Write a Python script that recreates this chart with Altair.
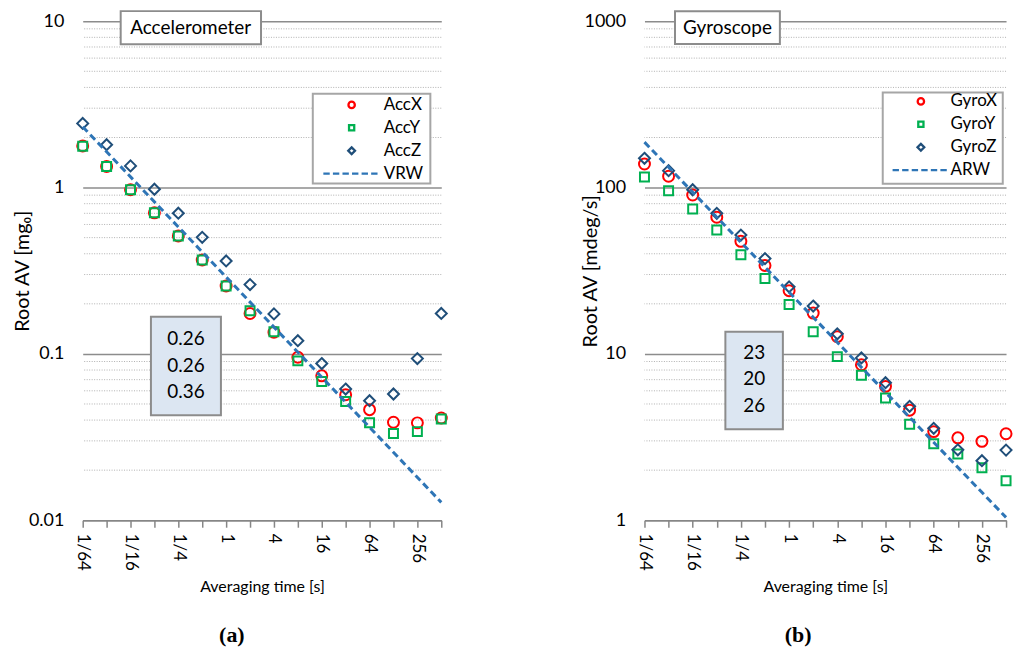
import altair as alt
import pandas as pd

# ---------------- data ----------------
tau = [1/64, 1/32, 1/16, 1/8, 1/4, 1/2, 1, 2, 4, 8, 16, 32, 64, 128, 256, 512]

acc_series = ["AccX", "AccY", "AccZ", "VRW"]
acc_x = [1.78, 1.34, 0.97, 0.705, 0.512, 0.367, 0.256, 0.175, 0.135, 0.0955, 0.0738, 0.0568, 0.0462, 0.0388, 0.0385, 0.0412]
acc_y = [1.77, 1.34, 0.97, 0.705, 0.512, 0.367, 0.256, 0.182, 0.136, 0.0908, 0.0682, 0.0518, 0.0385, 0.0332, 0.0341, 0.0406]
acc_z = [2.43, 1.81, 1.35, 0.977, 0.701, 0.502, 0.362, 0.261, 0.174, 0.120, 0.0875, 0.0615, 0.0523, 0.0574, 0.0937, 0.175]
vrw_tau = [1/64, 512]
vrw = [2.32, 0.0128]
acc_box_values = ["0.26", "0.26", "0.36"]

gyro_series = ["GyroX", "GyroY", "GyroZ", "ARW"]
gyro_x = [138.6, 117, 90.2, 66.3, 47.5, 34.0, 24.0, 17.6, 12.7, 8.6, 6.38, 4.59, 3.41, 3.13, 2.98, 3.31]
gyro_y = [115.9, 95.6, 74.4, 55.5, 39.5, 28.4, 19.8, 13.6, 9.63, 7.45, 5.43, 3.78, 2.88, 2.50, 2.07, 1.73]
gyro_z = [150, 126.4, 97, 70, 51.8, 37.4, 25.3, 19.4, 13.2, 9.46, 6.71, 4.84, 3.57, 2.65, 2.28, 2.64]
arw_tau = [1/64, 512]
arw = [187.5, 1.04]
gyro_box_values = ["23", "20", "26"]

acc_major = [0.01, 0.1, 1, 10]
gyro_major = [1, 10, 100, 1000]

# ---------------- styling ----------------
FONT = "Lato"
COLORS = ["#ff0000", "#00b050", "#1f4e79", "#2e75b6"]

# marker shapes for the plotted points (unit paths, scaled by sqrt(size)/2)
P_CIRCLE = "M1,0A1,1,0,1,1,-1,0A1,1,0,1,1,1,0Z"
P_SQUARE = "M-0.82,-0.82H0.82V0.82H-0.82Z"
P_DIAMOND = "M0,-1.0L1.0,0L0,1.0L-1.0,0Z"
POINT_SHAPES = [P_CIRCLE, P_SQUARE, P_DIAMOND]

# legend symbols (legend symbolSize 64 -> 4 px per unit)
L_CIRCLE = "M0.8,0A0.8,0.8,0,1,1,-0.8,0A0.8,0.8,0,1,1,0.8,0Z"
L_SQUARE = "M-0.65,-0.65H0.65V0.65H-0.65Z"
L_DIAMOND = "M0,-0.85L0.85,0L0,0.85L-0.85,0Z"
dash_parts = []
s = -7.1
while s < 7.1:
    e = min(s + 1.6, 7.1)
    dash_parts.append(f"M{s:.2f},0H{e:.2f}")
    s += 2.4
L_DASH = "".join(dash_parts)
LEGEND_SHAPES = [L_CIRCLE, L_SQUARE, L_DIAMOND, L_DASH]

ODD_EXP = "round(log(datum.value)/log(2)) % 2 != 0"
LABEL_EXPR = (f"({ODD_EXP}) ? '' : "
              "(datum.value < 1 ? '1/' + round(1/datum.value) : '' + round(datum.value))")


def minor_values(major):
    out = []
    for m in major[:-1]:
        for k in range(2, 10):
            out.append(m * k)
    return out


def panel(series, xs, ys, zs, line_tau, line_vals, major, ytitle, ytitle_x,
          title_text, title_box, box_vals, value_box, value_x, value_y,
          legend_box, legend_xy, label_offset, tag, width):
    xscale = alt.Scale(type="log", base=2, domain=[tau[0], tau[-1]], nice=False)
    yscale = alt.Scale(type="log", domain=[major[0], major[-1]], nice=False)

    pts = pd.DataFrame({
        "t": tau * 3,
        "v": xs + ys + zs,
        "series": [series[0]] * len(tau) + [series[1]] * len(tau) + [series[2]] * len(tau),
    })
    line_df = pd.DataFrame({"t": line_tau, "v": line_vals})
    minor_df = pd.DataFrame({"v": minor_values(major)})
    legend_df = pd.DataFrame({"series": series})

    xaxis = alt.Axis(values=tau, labelExpr=LABEL_EXPR, labelAngle=90, grid=False,
                     labelFlush=False, labelOverlap=False,
                     labelFontSize={"condition": {"test": ODD_EXP, "value": 0}, "value": 17},
                     domainColor="#868686", domainWidth=1.5, tickColor="#868686",
                     tickWidth=1.5, tickSize=7, labelPadding=6,
                     titleY=67, titleBaseline="middle",
                     labelFont=FONT, titleFont=FONT, titleFontSize=16,
                     titleFontWeight="normal", labelColor="black", titleColor="black",
                     title="Averaging time [s]")
    yaxis = alt.Axis(values=major, format="~g", grid=True, gridColor="#8c8c8c",
                     gridWidth=1.5, domain=False, ticks=False, labelPadding=19,
                     labelFont=FONT, labelFontSize=18, titleFont=FONT, titleFontSize=20,
                     titleFontWeight="normal", labelColor="black", titleColor="black",
                     titleX=ytitle_x, titleBaseline="middle", title=ytitle)

    def X(field):
        return alt.X(field, scale=xscale, axis=xaxis)

    def Y(field):
        return alt.Y(field, scale=yscale, axis=yaxis)

    legend = alt.Legend(title=None, orient="none", legendX=legend_xy[0], legendY=legend_xy[1],
                        strokeColor="transparent", fillColor="transparent", padding=0,
                        symbolSize=64, symbolStrokeWidth=2.3, symbolFillColor="transparent",
                        symbolOffset=20,
                        labelFont=FONT, labelFontSize=17, labelColor="black",
                        labelOffset=label_offset, rowPadding=5)

    grid_minor = alt.Chart(minor_df).mark_rule(
        color="#b0b0b0", strokeDash=[1, 1.5], strokeWidth=1
    ).encode(y=Y("v:Q"))

    points = alt.Chart(pts).mark_point(filled=False, size=121, strokeWidth=2, opacity=1).encode(
        x=X("t:Q"),
        y=Y("v:Q"),
        color=alt.Color("series:N", scale=alt.Scale(domain=series[:3], range=COLORS[:3]), legend=None),
        shape=alt.Shape("series:N", scale=alt.Scale(domain=series[:3], range=POINT_SHAPES), legend=None),
    )

    line = alt.Chart(line_df).mark_line(
        color=COLORS[3], strokeDash=[7, 4], strokeWidth=3
    ).encode(x=X("t:Q"), y=Y("v:Q"))

    # legend frame (drawn in data coordinates)
    lb = pd.DataFrame({"x1": [legend_box[0]], "x2": [legend_box[1]],
                       "y1": [legend_box[2]], "y2": [legend_box[3]]})
    legend_rect = alt.Chart(lb).mark_rect(
        fill="white", stroke="#a6a6a6", strokeWidth=2
    ).encode(x=X("x1:Q"), x2="x2:Q", y=Y("y1:Q"), y2="y2:Q")

    # legend-only layer: invisible (size 0) marks that carry the legend scales
    legend_layer = alt.Chart(legend_df).mark_point(
        filled=False, size=0, strokeWidth=2, opacity=1
    ).encode(
        color=alt.Color("series:N", scale=alt.Scale(domain=series, range=COLORS), legend=legend),
        shape=alt.Shape("series:N", scale=alt.Scale(domain=series, range=LEGEND_SHAPES), legend=legend),
    )

    tb = pd.DataFrame({"x1": [title_box[0]], "x2": [title_box[1]],
                       "y1": [title_box[2]], "y2": [title_box[3]],
                       "tx": [title_box[4]], "ty": [title_box[5]], "label": [title_text]})
    title_rect = alt.Chart(tb).mark_rect(
        fill="white", stroke="#8c8c8c", strokeWidth=2, clip=False
    ).encode(x=X("x1:Q"), x2="x2:Q", y=Y("y1:Q"), y2="y2:Q")
    title_txt = alt.Chart(tb).mark_text(
        font=FONT, fontSize=19, color="black", align="center", baseline="middle", clip=False
    ).encode(x=X("tx:Q"), y=Y("ty:Q"), text="label:N")

    vb = pd.DataFrame({"x1": [value_box[0]], "x2": [value_box[1]],
                       "y1": [value_box[2]], "y2": [value_box[3]]})
    val_rect = alt.Chart(vb).mark_rect(
        fill="#dce6f2", stroke="#8c8c8c", strokeWidth=2
    ).encode(x=X("x1:Q"), x2="x2:Q", y=Y("y1:Q"), y2="y2:Q")
    vt = pd.DataFrame({"tx": [value_x] * 3, "ty": value_y, "label": box_vals})
    val_txt = alt.Chart(vt).mark_text(
        font=FONT, fontSize=19, color="black", align="center", baseline="middle"
    ).encode(x=X("tx:Q"), y=Y("ty:Q"), text="label:N")

    return alt.layer(
        grid_minor, points, line, title_rect, title_txt, val_rect, val_txt,
        legend_rect, legend_layer
    ).resolve_scale(color="independent", shape="independent").properties(
        width=width, height=501,
        title=alt.TitleParams(tag, orient="bottom", font="Liberation Serif", fontSize=22,
                              fontWeight="bold", color="black", offset=30, anchor="middle",
                              frame="bounds"),
    )


pa = panel(acc_series, acc_x, acc_y, acc_z, vrw_tau, vrw, acc_major,
           "Root AV [mg\u2080]", -60,
           "Accelerometer", [0.047, 2.75, 7.28, 11.5, 0.358, 9.15], acc_box_values,
           [0.113, 0.86, 0.0428, 0.167], 0.312, [0.1225, 0.0851, 0.0594],
           [12.34, 373, 1.057, 3.67], (241.5, 75.5), 23.7, "(a)", 360)
pb = panel(gyro_series, gyro_x, gyro_y, gyro_z, arw_tau, arw, gyro_major,
           "Root AV [mdeg/s]", -54,
           "Gyroscope", [0.0376, 0.767, 729, 1147, 0.170, 914], gyro_box_values,
           [0.160, 0.836, 3.52, 13.6], 0.366, [10.08, 7.05, 4.89],
           [14.77, 466, 105.4, 373], (249, 72), 21.3, "(b)", 363)

chart = alt.hconcat(pa, pb, spacing=130).resolve_scale(
    color="independent", shape="independent"
).properties(
    padding={"left": 5, "top": 0, "right": 0, "bottom": 2},
).configure_view(stroke=None)

chart.save("out.html", embed_options={"renderer": "svg", "actions": False})
